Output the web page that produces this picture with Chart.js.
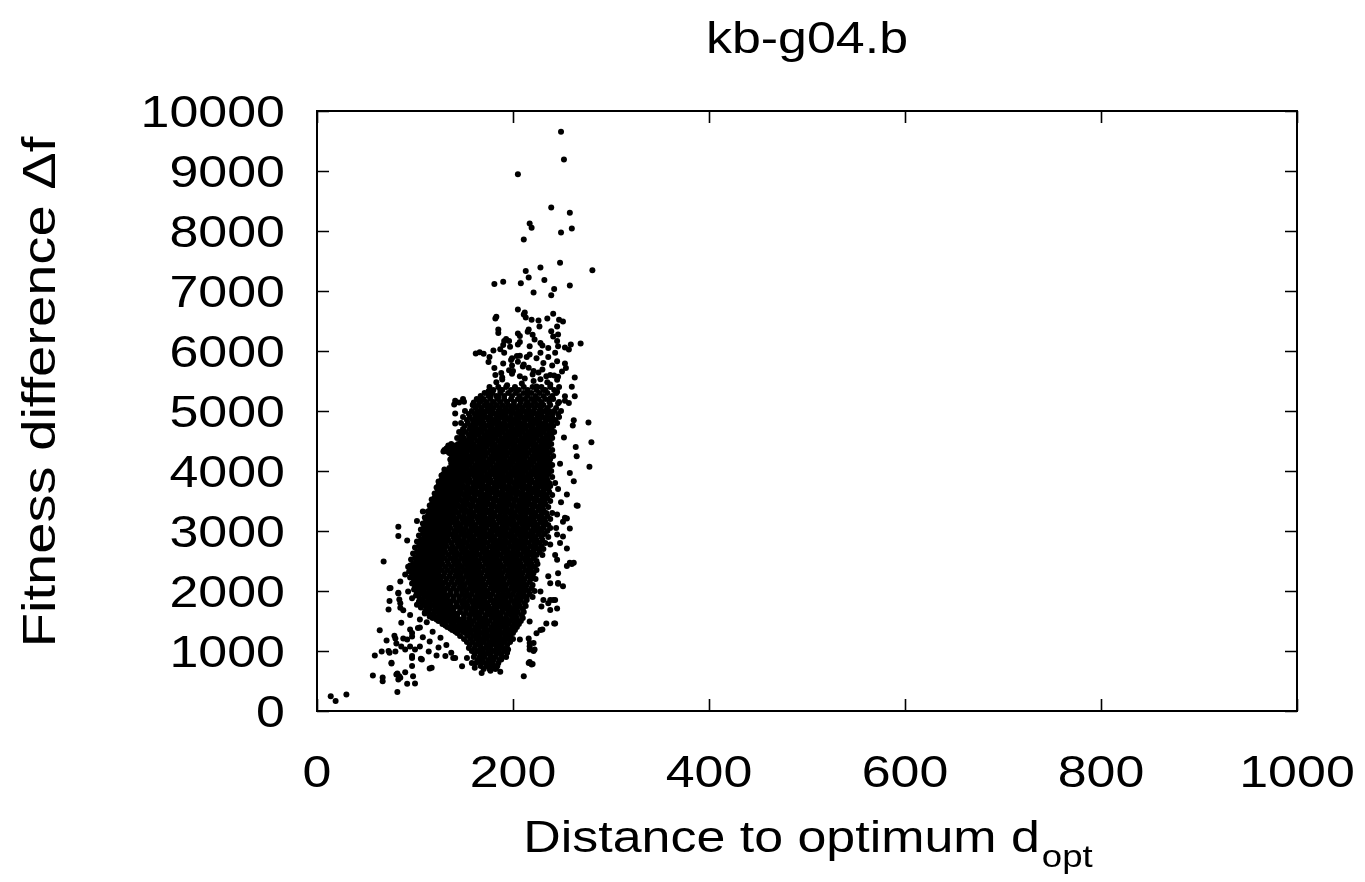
<!DOCTYPE html>
<html>
<head>
<meta charset="utf-8">
<title>kb-g04.b</title>
<script src="https://cdn.jsdelivr.net/npm/chart.js"></script>
<style>
  html, body { margin: 0; padding: 0; background: #fff; }
  canvas { display: block; }
</style>
</head>
<body>
<canvas id="fdc" width="1365" height="882"></canvas>
<script>
// axis ticks
const xTicks = [0, 200, 400, 600, 800, 1000];
const yTicks = [0, 1000, 2000, 3000, 4000, 5000, 6000, 7000, 8000, 9000, 10000];

// single points: [distance, fitness difference]
const upperTail = [
  [249,9655],[252,9190],[205,8945],[239,8390],[258,8305],[217,8125],[219,8055],[260,8040],[249,7975],[211,7860],
  [248,7470],[228,7390],[213,7335],[281,7345],[216,7225],[232,7185],[181,7115],[190,7155],[208,7130],[258,7090],
  [242,7035],[221,6975],[239,6930],[205,6690],[212,6640],[241,6620],[183,6570],[182,6540],[211,6610],[213,6560],
  [235,6540],[219,6520],[226,6510],[247,6520],[251,6490],[185,6360],[216,6360],[227,6410],[245,6410],[205,6290],
  [239,6330],[246,6275],[191,6165],[196,6165],[228,6135],[217,6080],[205,6110],[245,6165],[246,6080],[259,6110],
  [269,6125],[257,6025],[162,5960],[166,5980],[170,5955],[180,6010],[187,6030],[191,5970],[175,5815],[198,5850],
  [204,5915],[217,5940],[228,5970],[243,5970],[245,5830],[254,5715],[263,5560],[181,5715],[188,5635],[189,5525],
  [200,5665],[211,5775],[221,5665],[230,5690],[234,5580],[242,5590],[246,5570],[260,5405],[263,5245],[253,5245],
  [257,5135],[175,5330],[177,5245],[187,5355],[140,5110],[145,5140],[150,5155],[160,5140],[166,5195],[173,5090],
  [185,6300],[207,6250],[215,6320],[220,6270],[241,6240],[190,6100],[197,6070],[207,6150],[230,6090],[253,6060],
  [199,5880],[207,5920],[214,5900],[224,5880],[190,5790],[199,5760],[205,5820],[210,5740],[231,5800],[240,5760],
  [253,5790],[182,5600],[189,5560],[199,5620],[207,5580],[212,5540],[220,5610],[228,5530],[238,5600],[245,5520],
  [194,5430],[202,5380],[209,5460],[215,5310],[224,5410],[231,5350],[238,5440],[245,5320],[141,5170],[149,5200],
  [159,5100],[168,5180],[177,5070],[185,5230],[194,5150],[199,5080],[207,5210],[214,5120],[222,5180],[230,5100],
  [238,5210],[246,5130],[253,5170],[196,5680],[216,5720],[226,5640],[183,5480],[221,5500],[235,5480],[193,6200],
  [222,6190],[236,6050],[176,5900],[236,5900],[250,5660]
];

const rightEdge = [
  [141,4960],[141,4790],[277,4810],[280,4480],[278,4070],[262,4845],[264,4400],[265,4245],[262,3830],[265,3425],
  [255,3610],[261,4760],[258,3965],[266,3420],[245,3275],[253,3220],[258,3040],[255,2710],[245,2940],[238,2775],
  [248,2800],[251,2910],[255,3210],[251,3155],[248,4120],[252,4560],[246,3700],[249,3480],[244,3050],[243,2600],
  [260,2450],[246,2295],[245,2520],[236,2245],[238,2130],[246,2120],[251,2080],[246,2135],[258,2470],[255,2415],
  [262,2470],[228,1990],[231,1850],[236,1795],[241,1850],[243,1850],[238,1850],[245,1710],[229,1740],[238,1685],
  [217,1490],[224,1295],[228,1350],[234,1460],[243,1460],[230,1360],[242,1460],[216,1210],[217,1025],[222,1025],
  [221,1135],[221,1000],[217,1080],[207,1190],[217,1135],[216,800],[219,775],[217,815],[220,785],[211,580]
];

const leftArm = [
  [129,4325],[143,4315],[137,4175],[140,4080],[146,4175],[151,4410],[147,4570],[148,4655],[136,4190],[124,3760],
  [132,3720],[127,3580],[120,3550],[117,3440],[126,3410],[108,3325],[115,3340],[122,3300],[102,3165],[83,3070],
  [83,2915],[110,3025],[111,3015],[92,2840],[107,2775],[115,2720],[126,2830],[132,2915],[68,2490],[93,2405],
  [90,2275],[98,2245],[85,2160],[105,2470],[108,2330],[114,2440],[74,2045],[75,2050],[83,1970],[93,1990],
  [100,2070],[107,2130],[74,1835],[73,1690],[83,1960],[84,1860],[85,1720],[85,1795],[88,1680],[97,1880],
  [102,1770],[95,1600],[105,1525],[86,1470],[95,1360],[105,1390],[103,1385],[97,1300],[64,1345],[71,1175],
  [80,1210],[88,1210],[97,1240],[108,1230],[79,1255],[81,1125],[92,1190],[86,1075],[95,1075],[105,1075],
  [80,990],[66,990],[74,970],[73,1000],[90,1025],[100,1025],[114,990],[122,925],[97,915],[106,870],
  [97,885],[107,860],[131,915],[139,885],[117,720],[115,710],[76,805],[76,790],[97,750],[59,925],
  [82,625],[84,580],[83,525],[90,645],[98,580],[100,460],[92,455],[81,610],[85,555],[57,590],
  [67,560],[67,495],[82,315],[14,245],[19,165],[30,275],[132,1100],[137,970],[141,885],[153,885],
  [148,745],[158,800],[161,720],[166,830],[168,635],[175,775],[177,670],[182,745],[183,720],[187,655],
  [188,860],[194,970],[194,1025],[195,1025],[112,1480],[118,1320],[115,1160],[126,1220],[124,1060],[110,1640]
];

// the dense core, read row by row: fitness level -> distances along that row
const coreFit = [
  5400,5350,5300,5250,5200,5150,5100,5050,5000,4950,4900,4850,4800,4750,4700,4650,4600,4550,4500,4450,
  4400,4350,4300,4250,4200,4150,4100,4050,4000,3950,3900,3850,3800,3750,3700,3650,3600,3550,3500,3450,
  3400,3350,3300,3250,3200,3150,3100,3050,3000,2950,2900,2850,2800,2750,2700,2650,2600,2550,2500,2450,
  2400,2350,2300,2250,2200,2150,2100,2050,2000,1950,1900,1850,1800,1750,1700,1650,1600,1550,1500,1450,
  1400,1350,1300,1250,1200,1150,1100,1050,1000,950,900,850,800,750,700
];
const coreDist = [
  [176,185,193,202,211,220,229,238,247],
  [180,189,198,206,215,224,233,242],
  [171,179,187,195,203,211,219,227,235,244],
  [167,175,183,191,199,207,215,223,231,240],
  [163,170,177,184,191,198,205,212,219,226,233,241],
  [166,173,180,187,194,201,208,215,222,229,237,247],
  [159,165,171,177,183,189,195,201,207,213,219,225,231,238],
  [162,168,174,180,186,192,198,204,210,216,222,228,235,244],
  [151,158,164,169,174,179,185,190,195,200,206,211,216,221,227,232,237,242,249],
  [155,161,166,171,177,182,187,192,198,203,208,214,219,224,229,235,240,246],
  [149,156,162,167,172,177,183,188,193,198,204,209,214,219,225,230,235,240,247],
  [153,159,164,169,175,180,185,191,196,201,206,212,217,222,227,233,238,243],
  [147,154,160,165,170,176,181,186,191,197,202,207,212,218,223,228,233,239,245],
  [151,157,162,168,173,178,184,189,194,199,205,210,215,220,226,231,236,241],
  [149,156,161,166,171,177,182,187,192,198,203,208,213,219,224,229,234,239],
  [145,152,158,163,168,174,179,184,189,195,200,205,210,216,221,226,231,237,242],
  [148,155,160,165,171,176,181,186,192,197,202,207,213,218,223,228,234,239],
  [143,150,156,161,167,172,177,182,188,193,198,203,209,214,219,224,230,235,240],
  [147,153,158,164,169,174,179,185,190,195,200,206,211,216,221,227,232,237],
  [137,144,150,155,160,166,171,176,181,187,192,197,202,208,213,218,223,229,234,239],
  [134,141,147,152,158,163,168,173,179,184,189,194,200,205,210,215,221,226,231,236],
  [130,138,145,150,156,161,166,171,177,182,187,192,198,203,208,213,219,224,229,234,240],
  [135,142,148,153,159,164,169,174,180,185,190,195,201,206,211,216,222,227,232,237],
  [139,146,151,157,162,167,172,178,183,188,193,199,204,209,214,220,225,230,235,241],
  [137,144,149,155,160,165,170,176,181,186,191,197,202,207,212,218,223,228,233,238],
  [142,148,153,158,164,169,174,179,185,190,195,200,206,211,216,221,227,232,237],
  [139,146,151,156,162,167,172,177,183,188,193,198,204,209,214,219,225,230,235,240],
  [135,142,148,153,159,164,169,174,180,185,190,195,201,206,211,216,222,227,232,237],
  [132,139,145,150,156,161,166,171,177,182,187,192,198,203,208,213,219,224,229,234,239],
  [129,136,142,147,153,158,163,168,174,179,184,189,195,200,205,210,216,221,226,231,236],
  [133,140,145,150,155,161,166,171,176,182,187,192,197,203,208,213,218,224,229,234,240],
  [127,134,140,146,151,156,162,167,172,177,183,188,193,198,204,209,214,219,225,230,235],
  [131,138,143,148,154,159,164,169,175,180,185,190,196,201,206,211,217,222,227,232,237,243],
  [125,132,138,144,149,154,160,165,170,175,181,186,191,196,202,207,212,217,223,228,233,238],
  [129,136,141,147,152,157,162,168,173,178,183,189,194,199,204,210,215,220,225,231,236],
  [123,130,136,142,147,153,158,163,168,174,179,184,189,195,200,205,210,216,221,226,231,237],
  [127,134,139,145,150,155,161,166,171,176,182,187,192,197,203,208,213,218,224,229,234,240],
  [120,128,134,140,145,151,156,161,167,172,177,182,188,193,198,203,209,214,219,224,230,235],
  [124,132,137,143,148,153,159,164,169,174,180,185,190,195,201,206,211,216,222,227,232,238],
  [118,126,132,138,143,149,154,159,165,170,175,180,186,191,196,201,207,212,217,222,228,233],
  [122,130,135,141,146,151,157,162,167,172,178,183,188,193,199,204,209,214,220,225,230,236],
  [116,124,130,136,141,147,152,157,163,168,173,178,184,189,194,199,205,210,215,220,226,231],
  [120,128,133,139,144,150,155,160,166,171,176,181,187,192,197,202,208,213,218,223,229,234,240],
  [113,121,128,134,139,145,150,156,161,166,171,177,182,187,192,198,203,208,213,219,224,229,235],
  [117,125,131,137,142,148,153,158,164,169,174,179,185,190,195,200,206,211,216,221,227,232,238],
  [111,119,126,132,138,143,149,154,159,165,170,175,180,186,191,196,201,207,212,217,222,228,233],
  [115,123,130,135,141,146,152,157,162,168,173,178,183,189,194,199,204,210,215,220,225,231,236],
  [109,117,124,131,136,142,147,152,158,163,168,173,179,184,189,194,200,205,210,215,221,226,231,238],
  [113,121,128,134,140,145,150,156,161,166,171,177,182,187,192,198,203,208,213,219,224,229,235],
  [108,116,123,130,136,141,147,152,157,163,168,173,178,184,189,194,199,205,210,215,220,226,232],
  [112,120,127,133,139,144,150,155,160,166,171,176,181,187,192,197,202,208,213,218,223,229,236],
  [106,114,121,128,134,140,145,150,156,161,166,171,177,182,187,192,198,203,208,213,219,224,230],
  [110,118,125,131,137,143,148,153,159,164,169,174,180,185,190,195,201,206,211,216,222,227,233],
  [104,112,119,126,132,138,144,149,155,160,165,170,176,181,186,191,197,202,207,212,218,223,229],
  [108,116,123,130,136,141,147,152,158,163,168,173,179,184,189,194,200,205,210,215,221,226,231],
  [102,110,117,124,131,137,142,148,153,158,163,169,174,179,184,190,195,200,205,211,216,221,227],
  [106,114,121,128,134,140,145,151,156,161,166,172,177,182,187,193,198,203,208,214,219,224,230],
  [100,108,116,123,130,136,141,147,152,157,162,168,173,178,183,189,194,199,204,210,215,221],
  [104,112,120,127,133,139,144,150,155,160,165,171,176,181,186,192,197,202,207,213,218,224],
  [98,106,114,121,128,134,140,145,151,156,161,166,172,177,182,187,193,198,203,208,214,219,225],
  [102,110,118,125,131,137,143,148,154,159,164,169,175,180,185,190,196,201,206,211,217,222],
  [97,105,113,120,127,133,139,144,150,155,160,165,171,176,181,186,192,197,202,207,213,218,224],
  [101,109,117,124,130,136,142,147,153,158,163,168,174,179,184,189,195,200,205,210,216,221],
  [99,107,115,122,129,135,141,146,152,157,162,167,173,178,183,188,194,199,204,209,215,220],
  [103,111,119,126,132,138,144,149,155,160,165,170,176,181,186,191,197,202,207,212,218,223],
  [101,109,117,124,131,137,143,148,154,159,164,169,175,180,185,190,196,201,206,211,217],
  [105,113,121,128,134,140,146,151,157,162,167,172,178,183,188,193,199,204,209,214,220],
  [103,111,119,126,133,139,145,150,156,161,166,171,177,182,187,192,198,203,208,213,219],
  [107,115,123,130,136,142,148,153,159,164,169,174,180,185,190,195,201,206,211,216,222],
  [105,114,122,129,136,142,148,153,158,164,169,174,179,185,190,195,200,206,211,217],
  [110,118,126,133,139,145,151,156,162,167,172,177,183,188,193,198,204,209,214,220],
  [108,117,125,132,139,145,150,156,161,166,171,177,182,187,192,198,203,208,214],
  [112,121,129,136,142,148,153,159,164,169,174,180,185,190,195,201,206,212],
  [111,120,128,136,143,149,154,160,165,170,175,181,186,191,196,202,207,213],
  [115,124,132,139,146,152,157,162,168,173,178,183,189,194,199,204,210],
  [114,123,131,139,146,152,158,163,168,174,179,184,189,195,200,205,211],
  [119,128,136,143,150,156,161,166,172,177,182,187,193,198,203,209],
  [118,127,135,143,150,156,162,167,172,178,183,188,193,199,204,210],
  [124,133,141,148,155,160,166,171,176,182,187,192,197,203,208],
  [128,137,145,152,158,164,169,174,180,185,190,195,201,206],
  [133,142,149,156,162,167,172,178,183,188,193,199,204],
  [138,147,154,160,165,171,176,181,186,192,197,202],
  [143,151,157,163,168,173,179,184,189,194,200],
  [146,154,160,165,171,176,181,186,192,197],
  [150,157,163,168,173,179,184,189,194,200],
  [153,159,165,170,176,181,186,191,197],
  [156,162,167,173,178,183,188,194],
  [155,161,167,172,177,183,188,193],
  [158,164,169,175,180,185,191],
  [161,167,172,177,183,188],
  [160,166,171,177,182,188,193],
  [164,169,175,180,186],
  [162,168,173,179,185],
  [167,173,179,184],
  [170,176,182]
];

// left flank of the core, read between the rows above
const flankFit = [
  4425,4375,4325,4275,4225,4175,4125,4075,4025,3975,3925,3875,3825,3775,3725,3675,3625,3575,3525,3475,
  3425,3375,3325,3275,3225,3175,3125,3075,3025,2975,2925,2875,2825,2775,2725,2675,2625,2575,2525,2475,
  2425,2375,2325,2275,2225,2175,2125,2075,2025,1975,1925,1875,1825,1775,1725,1675,1625,1575,1525,1475,
  1425,1375,1325
];
const flankDist = [
  [134,141,147,153],[132,138,145,151],[133,141,148],[137,144,150],[141,147,153],[140,146,152],[137,144,150],[138,143,149],
  [130,137,144,150],[134,141,147],[127,133,139,145],[130,137,143,149],[124,130,136,142],[128,135,141,146],[122,129,135,141],[126,133,139,145],
  [120,127,133,139],[124,131,137,143],[117,125,131,137,143],[121,128,135,141],[115,122,129,135,141],[119,127,133,139],[113,120,127,133,139],[117,124,131,137],
  [110,117,124,131,137],[114,121,128,134],[108,115,122,129,135],[112,119,126,133],[106,113,120,127,134],[110,117,125,132],[104,112,119,126,133],[109,116,124,131],
  [102,110,117,125,132],[106,114,122,129],[100,108,116,123,130],[105,112,120,127],[98,106,114,121,128],[103,110,118,125],[96,104,112,120,127],[101,108,116,124],
  [95,102,110,118,125],[99,106,114,122],[94,101,109,117,124],[97,105,113,121],[95,103,111,119,126],[99,107,115,123],[97,105,113,121,128],[101,109,117,125],
  [99,107,115,123,130],[102,110,119,127],[101,110,118,126,133],[105,114,122,130],[104,113,121,129,136],[108,116,125,133],[106,115,124,132,140],[111,120,128,136],
  [110,119,127,135,143],[115,124,132,140],[122,131,139,146],[128,137,145,151],[131,140,147,154],[136,145,152],[141,149,156]
];

// build the point list for Chart.js
const points = [];
[upperTail, rightEdge, leftArm].forEach(list => {
  list.forEach(p => points.push({ x: p[0], y: p[1] }));
});
coreFit.forEach((f, i) => {
  coreDist[i].forEach(d => points.push({ x: d, y: f }));
});
flankFit.forEach((f, i) => {
  flankDist[i].forEach(d => points.push({ x: d, y: f }));
});

// gnuplot-like text: Helvetica, a bit wider than Arial
const FONT = '"Liberation Sans", Arial, Helvetica, sans-serif';
const STRETCH = 1.18;

function stretchedText(ctx, text, x, y, align, size, sx) {
  ctx.save();
  ctx.font = size + 'px ' + FONT;
  ctx.translate(x, y);
  ctx.scale(sx || STRETCH, 1);
  ctx.textAlign = align;
  ctx.textBaseline = 'alphabetic';
  ctx.fillText(text, 0, 0);
  ctx.restore();
}

// frame, inward ticks on all four sides, labels and titles
const gnuplotFrame = {
  id: 'gnuplotFrame',
  afterDraw(chart) {
    const ctx = chart.ctx;
    const area = chart.chartArea;
    const xs = chart.scales.x;
    const ys = chart.scales.y;
    const tick = 12;

    ctx.save();
    ctx.strokeStyle = '#000';
    ctx.fillStyle = '#000';
    ctx.lineWidth = 2;
    ctx.strokeRect(area.left, area.top, area.right - area.left, area.bottom - area.top);

    ctx.lineWidth = 1.6;
    ctx.beginPath();
    xTicks.forEach(v => {
      const px = Math.round(xs.getPixelForValue(v)) + 0.5;
      ctx.moveTo(px, area.bottom); ctx.lineTo(px, area.bottom - tick);
      ctx.moveTo(px, area.top); ctx.lineTo(px, area.top + tick);
    });
    yTicks.forEach(v => {
      const py = Math.round(ys.getPixelForValue(v)) + 0.5;
      ctx.moveTo(area.left, py); ctx.lineTo(area.left + tick, py);
      ctx.moveTo(area.right, py); ctx.lineTo(area.right - tick, py);
    });
    ctx.stroke();

    xTicks.forEach(v => {
      stretchedText(ctx, String(v), xs.getPixelForValue(v), area.bottom + 76, 'center', 44);
    });
    yTicks.forEach(v => {
      stretchedText(ctx, String(v), area.left - 32, ys.getPixelForValue(v) + 16, 'right', 44);
    });

    // title
    stretchedText(ctx, 'kb-g04.b', (area.left + area.right) / 2, 53, 'center', 44);

    // x axis title with subscript
    ctx.font = '44px ' + FONT;
    const mainTxt = 'Distance to optimum d';
    const wMain = ctx.measureText(mainTxt).width * STRETCH;
    ctx.font = '31px ' + FONT;
    const wSub = ctx.measureText('opt').width * STRETCH;
    const x0 = (area.left + area.right) / 2 - (wMain + wSub) / 2;
    stretchedText(ctx, mainTxt, x0, 852, 'left', 44);
    stretchedText(ctx, 'opt', x0 + wMain + 2, 867, 'left', 31);

    // y axis title, rotated
    ctx.save();
    ctx.translate(55, 392);
    ctx.rotate(-Math.PI / 2);
    stretchedText(ctx, 'Fitness difference \u0394f', 0, 0, 'center', 46, 1.22);
    ctx.restore();

    ctx.restore();
  }
};

new Chart(document.getElementById('fdc'), {
  type: 'scatter',
  data: {
    datasets: [{
      label: 'kb-g04.b',
      data: points,
      pointRadius: 3,
      pointHoverRadius: 3,
      pointBorderWidth: 0,
      backgroundColor: '#000',
      borderColor: '#000'
    }]
  },
  options: {
    responsive: false,
    animation: false,
    devicePixelRatio: 1,
    layout: { padding: { left: 309, right: 68, top: 111, bottom: 163 } },
    plugins: {
      legend: { display: false },
      tooltip: { enabled: false },
      title: { display: false }
    },
    scales: {
      x: {
        type: 'linear',
        min: 0, max: 1000,
        grid: { display: false },
        border: { display: false },
        ticks: { display: false, stepSize: 200 }
      },
      y: {
        type: 'linear',
        min: 0, max: 10000,
        grid: { display: false },
        border: { display: false },
        ticks: { display: false, stepSize: 1000 }
      }
    }
  },
  plugins: [gnuplotFrame]
});
</script>
</body>
</html>
